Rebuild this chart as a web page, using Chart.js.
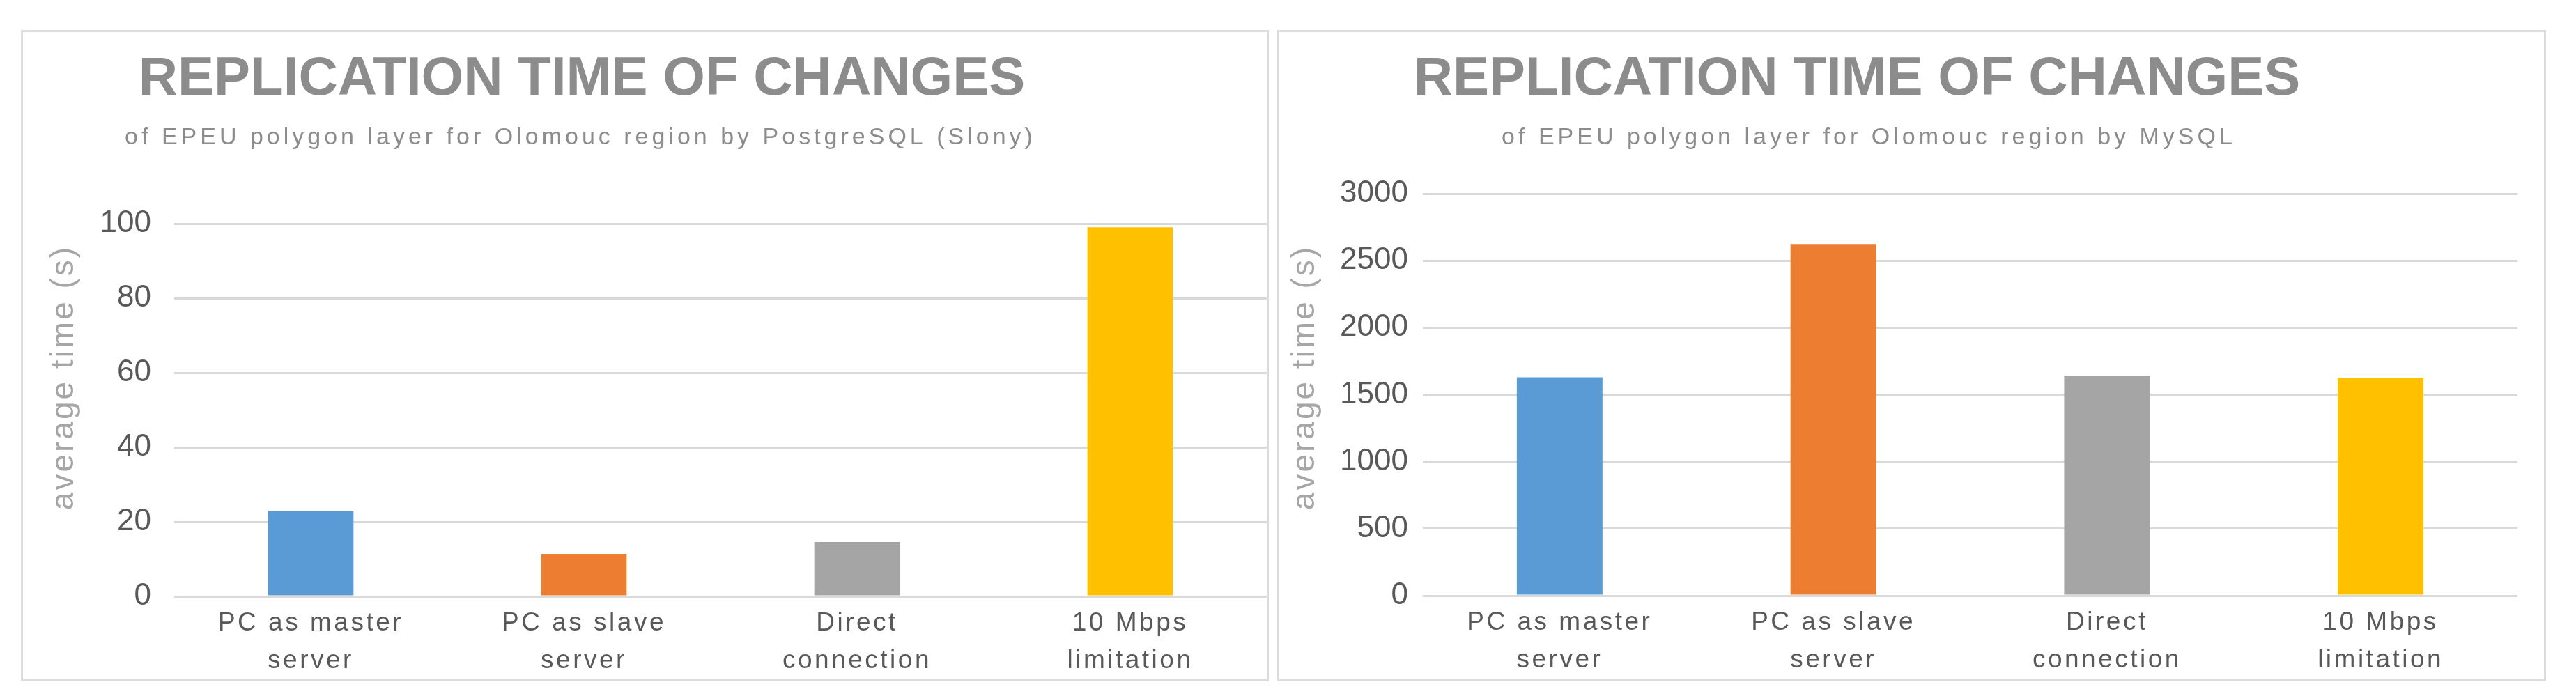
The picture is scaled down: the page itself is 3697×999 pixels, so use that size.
<!DOCTYPE html>
<html>
<head>
<meta charset="utf-8">
<script src="https://cdn.jsdelivr.net/npm/chart.js@4.4.1/dist/chart.umd.min.js"></script>
<style>
  html, body { margin: 0; padding: 0; background: #ffffff; }
  body { width: 3697px; height: 999px; position: relative; overflow: hidden; }
  .panel { position: absolute; box-sizing: border-box; border: 3px solid #dcdcdc; background: #fff; }
  .panel canvas { position: absolute; left: 0; top: 0; }
</style>
</head>
<body>
<div class="panel" id="p1" style="left:30px; top:43px; width:1791px; height:935px;"><canvas id="c1"></canvas></div>
<div class="panel" id="p2" style="left:1833px; top:43px; width:1821px; height:935px;"><canvas id="c2"></canvas></div>
<script>
// ---- data ----
const categories = [["PC as master", "server"], ["PC as slave", "server"], ["Direct", "connection"], ["10 Mbps", "limitation"]];
const barColors = ["#5B9BD5", "#ED7D31", "#A5A5A5", "#FFC000"];
const postgresTimes = [22.9, 11.4, 14.6, 99.0];
const mysqlTimes = [1630, 2625, 1643, 1626];
const postgresTicks = { max: 100, step: 20 };
const mysqlTicks = { max: 3000, step: 500 };
const titleText = "REPLICATION TIME OF CHANGES";
const postgresSubtitle = "of EPEU polygon layer for Olomouc region by PostgreSQL (Slony)";
const mysqlSubtitle = "of EPEU polygon layer for Olomouc region by MySQL";
const yAxisTitle = "average time (s)";

const FONT = "'Liberation Sans', Arial, Helvetica, sans-serif";

// letter spacing for the category labels (drawn before datasets); reset before y labels (z=1)
const spacingPlugin = {
  id: 'spacing',
  beforeDraw(chart) { chart.ctx.letterSpacing = '3.5px'; },
  beforeDatasetsDraw(chart) { chart.ctx.letterSpacing = '0px'; }
};

// custom text plugin: title, subtitle and rotated y title at given positions (canvas coords)
const textPlugin = {
  id: 'texts',
  afterDraw(chart, args, o) {
    const ctx = chart.ctx;
    ctx.save();
    ctx.letterSpacing = '0px';
    ctx.fillStyle = '#8C8C8C';
    ctx.font = 'bold 78px ' + FONT;
    ctx.textAlign = 'center';
    ctx.textBaseline = 'alphabetic';
    ctx.fillText(o.title, o.titleX, o.titleY);
    ctx.font = '34px ' + FONT;
    ctx.letterSpacing = o.subSpacing + 'px';
    ctx.fillStyle = '#8C8C8C';
    ctx.fillText(o.subtitle, o.subX, o.subY);
    ctx.letterSpacing = '0px';
    ctx.translate(o.yTitleX, o.yTitleY);
    ctx.rotate(-Math.PI / 2);
    ctx.font = '46px ' + FONT;
    ctx.letterSpacing = '3px';
    ctx.fillStyle = '#A6A6A6';
    ctx.textBaseline = 'middle';
    ctx.fillText(yAxisTitle, 0, 0);
    ctx.restore();
  }
};

function makeChart(id, values, ticksCfg, cfg) {
  const canvas = document.getElementById(id);
  canvas.width = cfg.w; canvas.height = cfg.h;
  canvas.style.width = cfg.w + 'px'; canvas.style.height = cfg.h + 'px';
  return new Chart(canvas, {
    type: 'bar',
    data: {
      labels: categories,
      datasets: [{
        data: values,
        backgroundColor: barColors,
        borderWidth: 0,
        categoryPercentage: 1.0,
        barPercentage: 0.313
      }]
    },
    options: {
      responsive: false,
      devicePixelRatio: 1,
      animation: false,
      events: [],
      layout: { padding: { left: 0, top: cfg.padTop, right: cfg.padRight, bottom: 0 } },
      plugins: {
        legend: { display: false },
        tooltip: { enabled: false },
        title: { display: false },
        texts: cfg.texts
      },
      scales: {
        x: {
          grid: { display: false, drawTicks: false },
          border: { display: false },
          ticks: {
            color: '#595959',
            font: { family: FONT, size: 37, lineHeight: 1.46 },
            padding: 12,
            maxRotation: 0,
            autoSkip: false,
            z: 0
          },
          afterFit(scale) { scale.height = cfg.xHeight; }
        },
        y: {
          min: 0,
          max: ticksCfg.max,
          grid: { color: '#D9D9D9', lineWidth: 3, drawTicks: false },
          border: { display: false },
          ticks: {
            stepSize: ticksCfg.step,
            color: '#595959',
            font: { family: FONT, size: 44 },
            padding: cfg.tickPad,
            z: 1,
            callback: (v) => String(v)
          },
          afterFit(scale) { scale.width = cfg.yWidth; }
        }
      }
    },
    plugins: [spacingPlugin, textPlugin]
  });
}

// left panel inner origin (33,46)
makeChart('c1', postgresTimes, postgresTicks, {
  w: 1785, h: 929,
  padTop: 275, padRight: 0, xHeight: 119, yWidth: 217, tickPad: 33,
  texts: {
    title: titleText, titleX: 835 - 33, titleY: 136 - 46,
    subtitle: postgresSubtitle, subX: 833 - 33, subY: 207 - 46, subSpacing: 5.0,
    yTitleX: 92 - 33, yTitleY: 542 - 46
  }
});
// right panel inner origin (1836,46)
makeChart('c2', mysqlTimes, mysqlTicks, {
  w: 1815, h: 929,
  padTop: 232, padRight: 38, xHeight: 120, yWidth: 206, tickPad: 21,
  texts: {
    title: titleText, titleX: 2665 - 1836, titleY: 136 - 46,
    subtitle: mysqlSubtitle, subX: 2682 - 1836, subY: 207 - 46, subSpacing: 5.0,
    yTitleX: 1873 - 1836, yTitleY: 542 - 46
  }
});
</script>
</body>
</html>
